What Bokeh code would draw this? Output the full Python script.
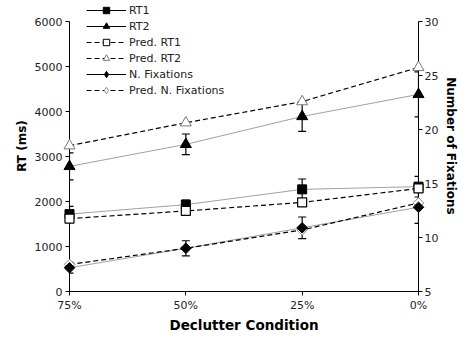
import numpy as np
from bokeh.plotting import figure
from bokeh.models import (Range1d, LinearAxis, FixedTicker, Legend, LegendItem,
                          Whisker, TeeHead, ColumnDataSource)
from bokeh.embed import file_html
from bokeh.resources import INLINE

# ---- data ----
conditions = ["75%", "50%", "25%", "0%"]
xpos = [0, 1, 2, 3]
rt1 = [1720, 1930, 2270, 2330]
rt1_err = [170, 100, 230, 230]
pred_rt1 = [1620, 1790, 1980, 2290]
rt2 = [2780, 3270, 3890, 4380]
rt2_err = [300, 230, 330, 500]
pred_rt2 = [3240, 3750, 4220, 4980]
nfix = [7.2, 9.0, 10.9, 12.8]
nfix_err = [0.5, 0.7, 1.0, 1.5]
pred_nfix = [7.5, 9.0, 10.7, 13.2]
left_ticks = [0, 1000, 2000, 3000, 4000, 5000, 6000]
right_ticks = [5, 10, 15, 20, 25, 30]

FW, FH = 349, 291
TOPPAD = 21
YTOP = 6000 * FH / (FH - TOPPAD)
FONT = "DejaVu Sans"

src = ColumnDataSource(dict(
    x=xpos, rt1=rt1, pred_rt1=pred_rt1, rt2=rt2, pred_rt2=pred_rt2,
    nfix=nfix, pred_nfix=pred_nfix,
    rt1_lo=[v - e for v, e in zip(rt1, rt1_err)], rt1_hi=[v + e for v, e in zip(rt1, rt1_err)],
    rt2_lo=[v - e for v, e in zip(rt2, rt2_err)], rt2_hi=[v + e for v, e in zip(rt2, rt2_err)],
    nf_lo=[v - e for v, e in zip(nfix, nfix_err)], nf_hi=[v + e for v, e in zip(nfix, nfix_err)],
))

p = figure(frame_width=FW, frame_height=FH, x_range=Range1d(0, 3), y_range=Range1d(0, YTOP),
           output_backend="svg", toolbar_location=None,
           min_border_left=69, min_border_right=0, min_border_top=0, min_border_bottom=0)
p.outline_line_color = None
p.grid.visible = False
p.background_fill_color = "white"

p.extra_y_ranges = {"fix": Range1d(5, 5 + YTOP / 240.0)}

def style_axis(ax):
    ax.axis_line_color = "black"
    ax.major_tick_line_color = "black"
    ax.minor_tick_line_color = None
    ax.major_tick_out = 4
    ax.major_tick_in = 0
    ax.major_label_text_font = FONT
    ax.major_label_text_font_size = "11px"
    ax.major_label_text_color = "#222222"
    ax.axis_label_text_font = FONT
    ax.axis_label_text_font_size = "12px"
    ax.axis_label_text_font_style = "bold"
    ax.axis_label_text_color = "black"
    ax.major_label_standoff = 3
    ax.axis_label_standoff = 3

xa = p.xaxis[0]
style_axis(xa)
xa.ticker = FixedTicker(ticks=xpos)
xa.major_label_overrides = {i: c for i, c in zip(xpos, conditions)}
xa.bounds = (0, 3)
xa.axis_label = "Declutter Condition"
xa.axis_label_text_font_size = "13.5px"
xa.axis_label_standoff = 2

ya = p.yaxis[0]
style_axis(ya)
ya.ticker = FixedTicker(ticks=left_ticks)
ya.bounds = (0, 6000)
ya.axis_label = "RT (ms)"

ra = LinearAxis(y_range_name="fix", axis_label="Number of Fixations")
style_axis(ra)
ra.ticker = FixedTicker(ticks=right_ticks)
ra.bounds = (5, 30)
ra.major_label_standoff = 2
ra.axis_label_standoff = 3
p.add_layout(ra, "right")

GRAY = "#a0a0a0"
DASH = "5 3"

# data lines
p.line("x", "rt1", source=src, line_color=GRAY, line_width=1)
p.line("x", "rt2", source=src, line_color=GRAY, line_width=1)
p.line("x", "nfix", source=src, line_color=GRAY, line_width=1, y_range_name="fix")
p.line("x", "pred_rt1", source=src, line_color="black", line_width=1.2, line_dash=DASH)
p.line("x", "pred_rt2", source=src, line_color="black", line_width=1.2, line_dash=DASH)
p.line("x", "pred_nfix", source=src, line_color="black", line_width=1.2, line_dash=DASH, y_range_name="fix")

# error bars
for lo, hi, rn in [("rt1_lo", "rt1_hi", "default"), ("rt2_lo", "rt2_hi", "default"), ("nf_lo", "nf_hi", "fix")]:
    w = Whisker(source=src, base="x", lower=lo, upper=hi, line_color="black", line_width=1.2,
                lower_head=TeeHead(size=8, line_color="black", line_width=1.2),
                upper_head=TeeHead(size=8, line_color="black", line_width=1.2),
                y_range_name=rn, level="annotation")
    p.add_layout(w)

# markers
p.scatter("x", "rt1", source=src, marker="square", size=9, fill_color="black", line_color="black", level="overlay")
p.scatter("x", "rt2", source=src, marker="triangle", size=11, fill_color="black", line_color="black", level="overlay")
p.scatter("x", "pred_rt1", source=src, marker="square", size=9, fill_color="white", line_color="black", line_width=1.2, level="overlay")
p.scatter("x", "pred_rt2", source=src, marker="triangle", size=11, fill_color="white", line_color="#777777", line_width=1, level="overlay")
p.scatter("x", "pred_nfix", source=src, marker="square", angle=np.pi / 4, size=7.5, fill_color="white", line_color="#888888", line_width=1, y_range_name="fix", level="overlay")
p.scatter("x", "nfix", source=src, marker="square", angle=np.pi / 4, size=7.5, fill_color="black", line_color="black", y_range_name="fix", level="overlay")

# legend-only renderers (no visible data)
NA = [np.nan]
def leg_line(dash):
    kw = dict(line_color="black", line_width=1.2)
    if dash:
        kw["line_dash"] = DASH
    return p.line(x=NA, y=NA, **kw)

def leg_mark(marker, fill, line="black"):
    return p.scatter(x=NA, y=NA, marker=marker, fill_color=fill, line_color=line, line_width=1)

labels = ["RT1", "RT2", "Pred. RT1", "Pred. RT2", "N. Fixations", "Pred. N. Fixations"]
styles = [(False, "square", "black", "black"), (False, "triangle", "black", "black"),
          (True, "square", "white", "black"), (True, "triangle", "white", "#777777"),
          (False, "diamond", "black", "black"), (True, "diamond", "white", "#888888")]
items = []
for lab, (dash, mk, fill, lc) in zip(labels, styles):
    items.append(LegendItem(label=lab, renderers=[leg_line(dash), leg_mark(mk, fill, lc)]))

LH = 16
legend = Legend(items=items, location=(17, FH - 2 - LH * len(items)), border_line_color=None,
                background_fill_alpha=0, padding=0, spacing=0, margin=0,
                label_standoff=3, glyph_width=40, glyph_height=LH, label_height=LH,
                label_text_font=FONT, label_text_font_size="11px", label_text_color="#222222")
p.add_layout(legend)

open("out.html", "w").write(file_html(p, INLINE))
